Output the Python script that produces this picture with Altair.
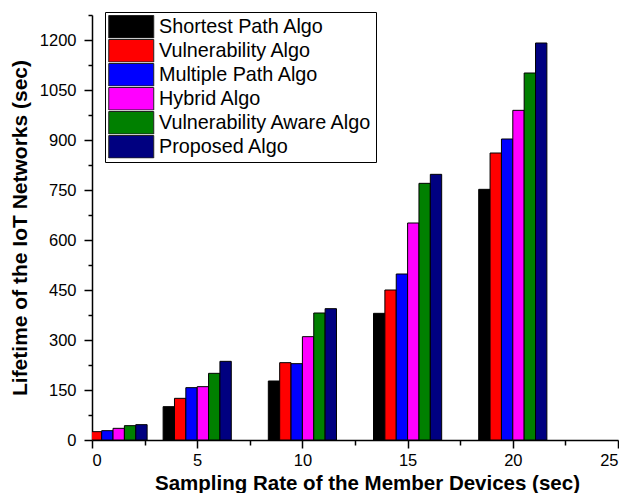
import altair as alt
import pandas as pd

groups = [1, 5, 10, 15, 20]
series = ["Shortest Path Algo", "Vulnerability Algo", "Multiple Path Algo",
          "Hybrid Algo", "Vulnerability Aware Algo", "Proposed Algo"]
colors = ["#000000", "#FF0000", "#0000FF", "#FF00FF", "#008000", "#000080"]

shortest = [20, 100, 177, 380, 752]
vulnerability = [25, 125, 232, 450, 861]
multiple = [28, 157, 229, 498, 903]
hybrid = [35, 160, 310, 651, 989]
vuln_aware = [43, 200, 381, 770, 1101]
proposed = [46, 236, 394, 797, 1191]

values = [shortest, vulnerability, multiple, hybrid, vuln_aware, proposed]

rows = []
for i, (name, vals) in enumerate(zip(series, values)):
    for g, v in zip(groups, vals):
        rows.append({"group": g, "series": name, "idx": i, "value": v})
df = pd.DataFrame(rows)

BW = 0.54
FONT = "Liberation Sans"

y_ticks = [i * 75 for i in range(18)]
x_ticks = [i * 2.5 for i in range(11)]

chart = alt.Chart(df).transform_calculate(
    x0=f"datum.group + (datum.idx - 3) * {BW}",
    x1=f"datum.group + (datum.idx - 2) * {BW}",
).mark_rect(stroke="black", strokeWidth=1, clip=True).encode(
    x=alt.X("x0:Q", scale=alt.Scale(domain=[0, 25], nice=False, zero=False),
            axis=alt.Axis(values=x_ticks, format="d",
                          labelExpr="datum.value % 5 === 0 ? datum.label : ''",
                          tickSize={"condition": {"test": "datum.value % 5 === 0", "value": 8}, "value": 5},
                          title="Sampling Rate of the Member Devices (sec)",
                          titleX=275, titleAlign="center",
                          labelFontSize=16.5, labelPadding=4, titleFontSize=20.5,
                          titlePadding=5, grid=False)),
    x2="x1:Q",
    y=alt.Y("value:Q", scale=alt.Scale(domain=[0, 1275], nice=False),
            axis=alt.Axis(values=y_ticks, format="d",
                          labelExpr="datum.value % 150 === 0 ? datum.label : ''",
                          tickSize={"condition": {"test": "datum.value % 150 === 0", "value": 8}, "value": 4},
                          title="Lifetime of the IoT Networks (sec)",
                          labelFontSize=16.5, labelPadding=8, titleFontSize=21,
                          titlePadding=9, grid=False)),
    y2=alt.Y2(datum=0),
    color=alt.Color("series:N", sort=series,
                    scale=alt.Scale(domain=series, range=colors),
                    legend=alt.Legend(orient="none", legendX=13, legendY=-3,
                                      title=None,
                                      symbolType="M-1,-1H3V1H-1Z",
                                      symbolSize=506,
                                      symbolStrokeColor="#222222",
                                      symbolStrokeWidth=1,
                                      clipHeight=23.5,
                                      labelFont=FONT, labelFontSize=19.8,
                                      labelColor="black",
                                      labelLimit=400, labelOffset=27,
                                      rowPadding=0, padding=3,
                                      strokeColor="black", fillColor="white")),
).properties(
    width=526, height=425,
    autosize=alt.AutoSizeParams(type="none"),
    padding={"left": 84, "top": 7, "right": 1, "bottom": 53},
).configure_view(stroke=None).configure_axis(
    labelFont=FONT, titleFont=FONT, labelColor="black", titleColor="black",
    domainColor="black", tickColor="black", domainWidth=1.5, tickWidth=1.5,
    titleFontWeight="bold",
)

chart.save("out.html", embed_options={"renderer": "svg", "actions": False})
